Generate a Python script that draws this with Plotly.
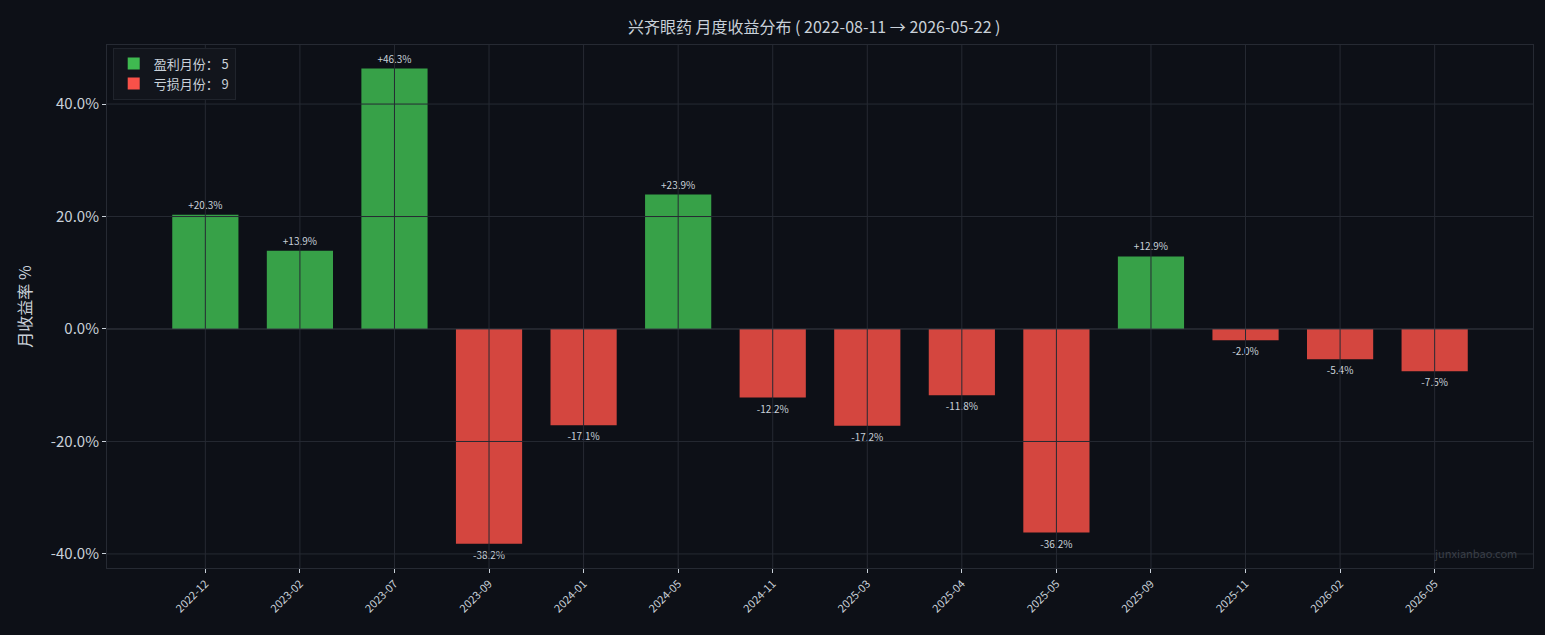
import plotly.graph_objects as go

months = ["2022-12", "2023-02", "2023-07", "2023-09", "2024-01", "2024-05", "2024-11",
          "2025-03", "2025-04", "2025-05", "2025-09", "2025-11", "2026-02", "2026-05"]
returns = [20.3, 13.9, 46.3, -38.2, -17.1, 23.9, -12.2, -17.2, -11.8, -36.2, 12.9, -2.0, -5.4, -7.5]
y_ticks = [-40, -20, 0, 20, 40]

BG = "#0d1017"
GRID = "#262a33"
TXT = "#c9d1d9"
FONT = "Noto Sans CJK SC, Noto Sans, sans-serif"

up = [r if r > 0 else None for r in returns]
down = [r if r <= 0 else None for r in returns]
n_up = sum(1 for r in returns if r > 0)
n_down = len(returns) - n_up

fig = go.Figure()
fig.add_bar(x=months, y=up, width=0.7, marker_color="#37a148", marker_line_width=0,
            showlegend=False,
            text=[f"+{v:.1f}%" if v is not None else "" for v in up],
            textposition="outside", textfont=dict(size=10, color=TXT), cliponaxis=False)
fig.add_bar(x=months, y=down, width=0.7, marker_color="#d4463f", marker_line_width=0,
            showlegend=False,
            text=[f"{v:.1f}%" if v is not None else "" for v in down],
            textposition="outside", textfont=dict(size=10, color=TXT), cliponaxis=False)
# legend entries
fig.add_bar(x=[months[0]], y=[0], marker_color="#3fb950", marker_line_width=0,
            name=f"盈利月份： {n_up}")
fig.add_bar(x=[months[0]], y=[0], marker_color="#f85149", marker_line_width=0,
            name=f"亏损月份： {n_down}")

# grid drawn above the bars
for m in months:
    fig.add_shape(type="line", xref="x", yref="paper", x0=m, x1=m, y0=0, y1=1,
                  line=dict(color=GRID, width=1), layer="above")
for t in y_ticks:
    fig.add_shape(type="line", xref="paper", yref="y", x0=0, x1=1, y0=t, y1=t,
                  line=dict(color="#3a3e47" if t == 0 else GRID, width=1), layer="above")

fig.update_layout(
    width=1545, height=635, barmode="overlay",
    paper_bgcolor=BG, plot_bgcolor=BG,
    font=dict(family=FONT, color=TXT, size=12),
    title=dict(text="兴齐眼药 月度收益分布 ( 2022-08-11 → 2026-05-22 )", x=0.527, y=0.965,
               font=dict(size=16, color=TXT)),
    margin=dict(l=107, r=12, t=45, b=67),
    legend=dict(x=0.004, y=0.995, xanchor="left", yanchor="top", bgcolor="#12151c",
                bordercolor="#20242c", borderwidth=1, font=dict(size=13, color=TXT)),
    xaxis=dict(type="category", categoryorder="array", categoryarray=months,
               range=[-1.04, 14.04], tickangle=-45, tickfont=dict(size=11, color=TXT),
               showgrid=False, ticks="outside",
               tickcolor=TXT, ticklen=4, showline=True, linecolor=GRID, mirror=True),
    yaxis=dict(range=[-42.5, 50.5], tickvals=y_ticks,
               ticktext=[f"{t:.1f}%" for t in y_ticks],
               tickfont=dict(size=15), title=dict(text="月收益率 %", font=dict(size=16)),
               showgrid=False, zeroline=False, ticks="outside", tickcolor=TXT, ticklen=4,
               showline=True, linecolor=GRID, mirror=True),
)
fig.add_annotation(text="junxianbao.com", xref="paper", yref="paper", x=0.99, y=0.01,
                   xanchor="right", yanchor="bottom", showarrow=False,
                   font=dict(size=11, color="#3a3f48"))

fig.write_html("out.html", config={"displayModeBar": False},
               post_script="document.body.style.margin='0';"
               "document.body.style.background='#0d1017';")
